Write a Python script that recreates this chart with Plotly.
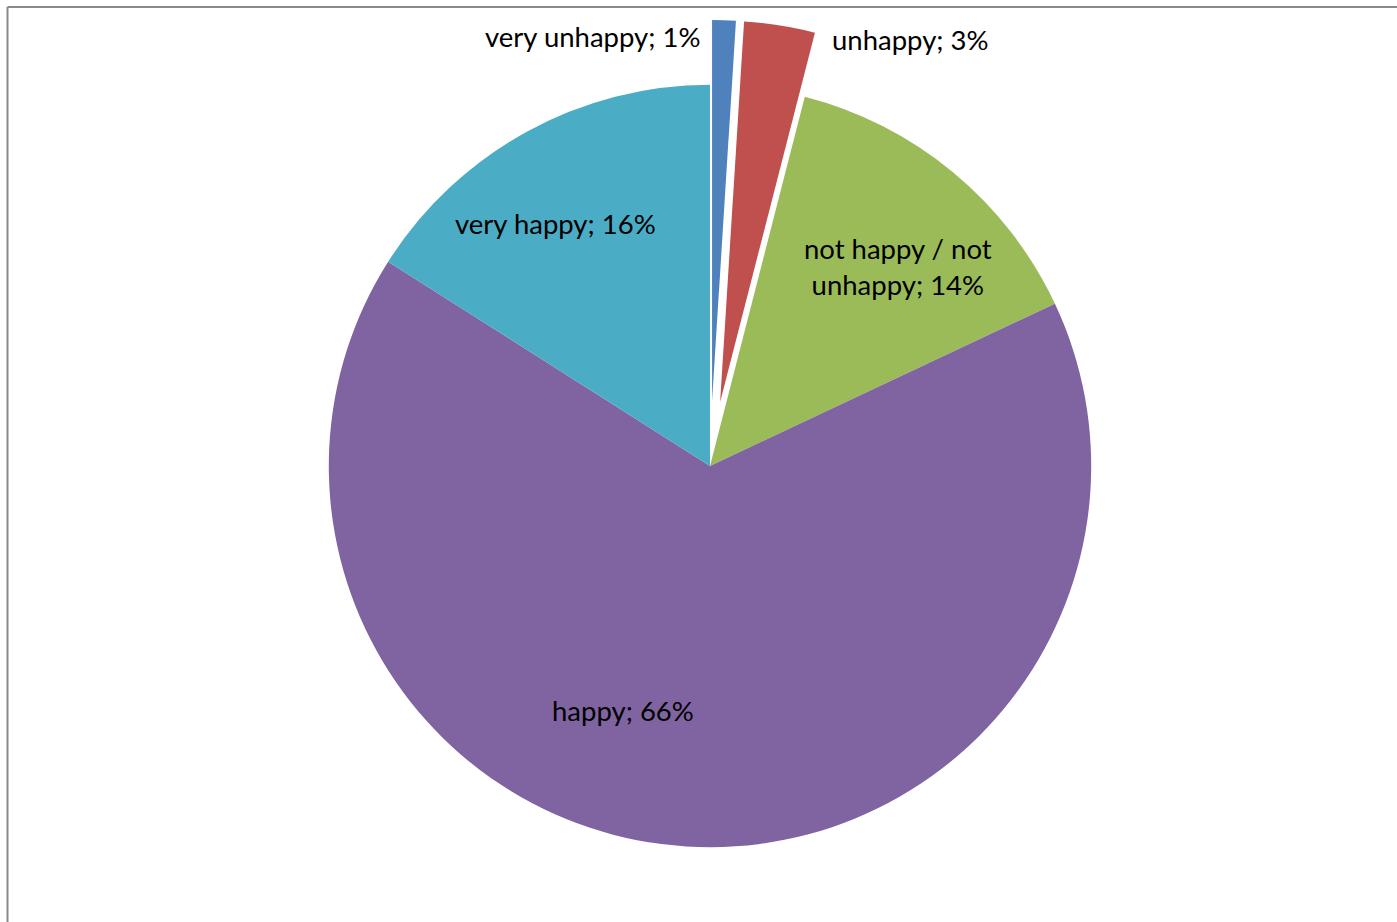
import plotly.graph_objects as go

# Data
categories = ["very unhappy", "unhappy", "not happy / not unhappy", "happy", "very happy"]
values = [1, 3, 14, 66, 16]
label_texts = ["very unhappy; 1%", "unhappy; 3%", "not happy / not<br>unhappy; 14%",
               "happy; 66%", "very happy; 16%"]

# Styles / layout
colors = ["#4F81BD", "#C0504D", "#9BBB59", "#8064A2", "#4BACC6"]
pulls = [0.17, 0.17, 0, 0, 0]
W, H = 1397, 922
label_px = [(592, 37), (910, 39), (898, 266), (623, 710), (555, 223)]

cx, cy = 710, 466
half = 446
dom_x = [max(0, (2 * cx - W) / W), 1.0]
dom_y = [1 - (cy + half) / H, 1 - (cy - half) / H]

fig = go.Figure(go.Pie(
    labels=categories,
    values=values,
    sort=False,
    direction="clockwise",
    rotation=0,
    pull=pulls,
    marker=dict(colors=colors, line=dict(color="white", width=0)),
    textinfo="none",
    hoverinfo="label+percent",
    showlegend=False,
    domain=dict(x=dom_x, y=dom_y),
))

annotations = []
for txt, (px, py) in zip(label_texts, label_px):
    annotations.append(dict(
        x=px / W, y=1 - py / H, xref="paper", yref="paper",
        text=txt, showarrow=False, xanchor="center", yanchor="middle",
        font=dict(family="Lato, Open Sans, sans-serif", size=27.5, color="#000000"),
    ))

fig.update_layout(
    width=W, height=H,
    margin=dict(l=0, r=0, t=0, b=0),
    paper_bgcolor="white",
    plot_bgcolor="white",
    annotations=annotations,
    shapes=[
        dict(type="line", xref="paper", yref="paper",
             x0=7.5 / W, x1=1.02, y0=1 - 7 / H, y1=1 - 7 / H,
             line=dict(color="#8a8a8a", width=2)),
        dict(type="line", xref="paper", yref="paper",
             x0=7.5 / W, x1=7.5 / W, y0=1 - 7 / H, y1=-0.02,
             line=dict(color="#8a8a8a", width=2)),
    ],
)

fig.write_html("out.html")
